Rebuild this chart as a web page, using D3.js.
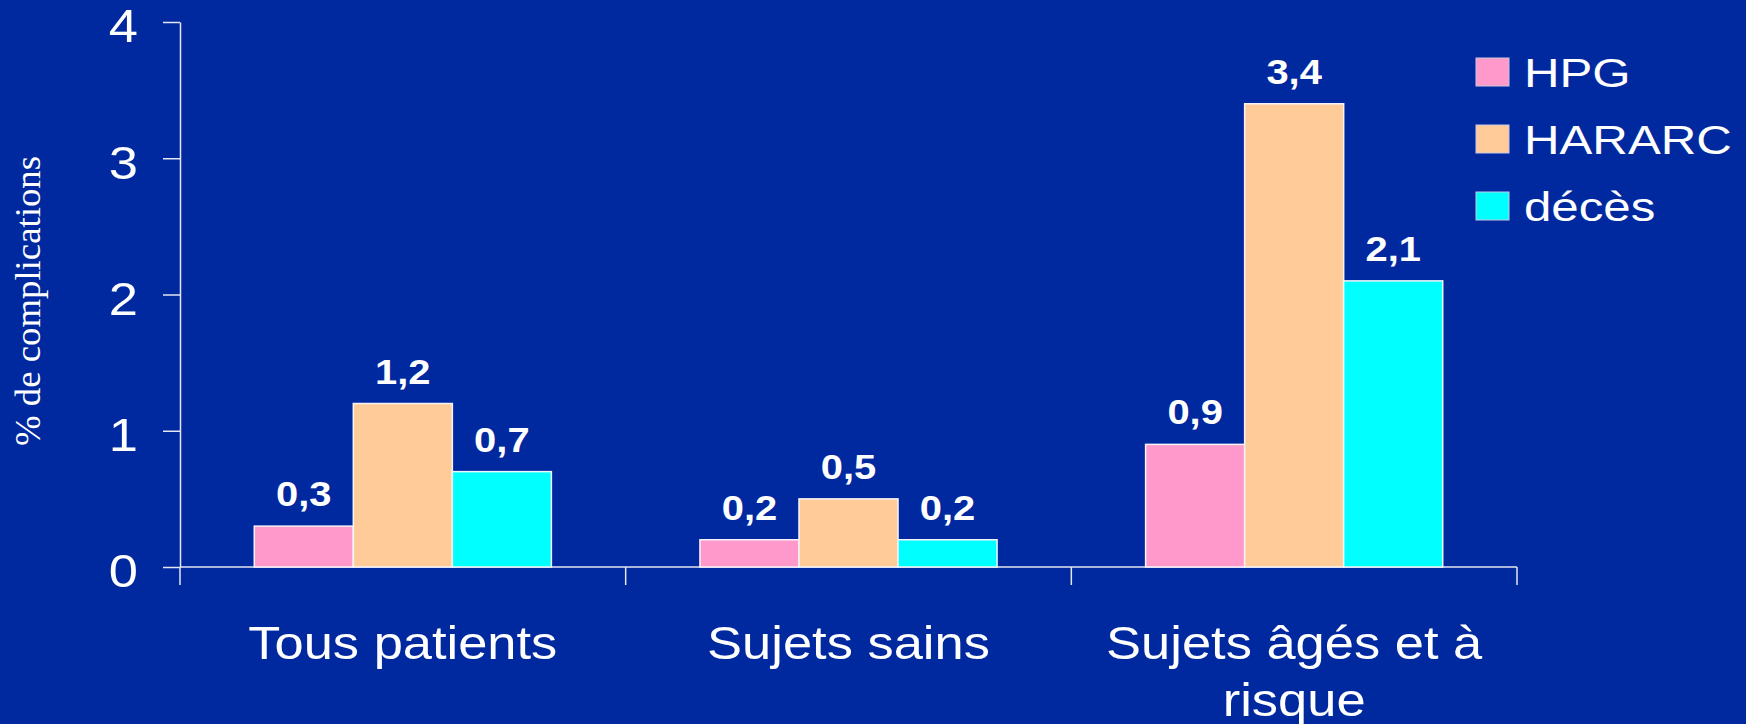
<!DOCTYPE html>
<html>
<head>
<meta charset="utf-8">
<title>complications</title>
<script src="https://cdn.jsdelivr.net/npm/d3@7"></script>
<style>
  body { margin: 0; background: #0029a0; }
  svg { display: block; }
</style>
</head>
<body>
<script>
// data
var categories = ['Tous patients', 'Sujets sains', 'Sujets âgés et à risque'];
var series = ['HPG', 'HARARC', 'décès'];
var hpg = [0.3, 0.2, 0.9];
var hararc = [1.2, 0.5, 3.4];
var deces = [0.7, 0.2, 2.1];
var yTicks = [0, 1, 2, 3, 4];
var yTitle = '% de complications';

var colors = ['#ff99cc', '#ffcc99', '#00ffff'];
var values = [hpg, hararc, deces];

var w = 1746, h = 724;
var sx = 1.14; // horizontal text stretch seen in the slide
var sans = '"Liberation Sans", Arial, sans-serif';

var svg = d3.select('body').append('svg')
  .attr('width', w)
  .attr('height', h);

svg.append('rect').attr('width', w).attr('height', h).attr('fill', '#0029a0');

var x0 = d3.scaleBand().domain(categories).range([180, 1517]);
var bw = x0.bandwidth();
var x1 = d3.scaleBand().domain(series).range([bw / 6, bw * 5 / 6]);
var y = d3.scaleLinear().domain([0, 4]).range([567, 22]);

function stretch(sel, k) {
  k = k || sx;
  sel.each(function() {
    var L = this.getComputedTextLength();
    d3.select(this).attr('textLength', L * k).attr('lengthAdjust', 'spacingAndGlyphs');
  });
}

// y axis
var yAxis = svg.append('g')
  .attr('transform', 'translate(180,0)')
  .call(d3.axisLeft(y).tickValues(yTicks).tickFormat(d3.format('d'))
    .tickSize(17).tickSizeOuter(0).tickPadding(25));
yAxis.selectAll('path, line').attr('stroke', '#e6e6f0').attr('stroke-width', 1.5);
yAxis.selectAll('text')
  .attr('fill', '#fff')
  .attr('font-family', sans)
  .attr('font-size', '46px')
  .attr('dy', '0.43em');
yAxis.selectAll('text').call(stretch);

// x axis line and boundary ticks
svg.append('line')
  .attr('x1', x0.range()[0]).attr('x2', x0.range()[1])
  .attr('y1', y(0)).attr('y2', y(0))
  .attr('stroke', '#e6e6f0').attr('stroke-width', 1.5);
var bounds = categories.map(function(d) { return x0(d); }).concat([x0.range()[1]]);
svg.selectAll('.xtick')
  .data(bounds)
  .enter()
  .append('line')
  .attr('class', 'xtick')
  .attr('x1', function(d) { return d; })
  .attr('x2', function(d) { return d; })
  .attr('y1', y(0))
  .attr('y2', y(0) + 18)
  .attr('stroke', '#e6e6f0').attr('stroke-width', 1.5);

// bars
var groups = svg.selectAll('.grp')
  .data(categories)
  .enter()
  .append('g')
  .attr('class', 'grp')
  .attr('transform', function(d) { return 'translate(' + x0(d) + ',0)'; });

var fmt = function(v) { return d3.format('.1f')(v).replace('.', ','); };

groups.each(function(c, ci) {
  var g = d3.select(this);
  var rows = series.map(function(s, si) { return { s: s, v: values[si][ci], col: colors[si] }; });
  g.selectAll('rect')
    .data(rows)
    .enter()
    .append('rect')
    .attr('x', function(d) { return x1(d.s); })
    .attr('y', function(d) { return y(d.v); })
    .attr('width', x1.bandwidth())
    .attr('height', function(d) { return y(0) - y(d.v); })
    .attr('fill', function(d) { return d.col; })
    .attr('stroke', '#f4f4f8')
    .attr('stroke-width', 1.5);
  g.selectAll('text')
    .data(rows)
    .enter()
    .append('text')
    .text(function(d) { return fmt(d.v); })
    .attr('x', function(d) { return x1(d.s) + x1.bandwidth() / 2; })
    .attr('y', function(d) { return y(d.v) - 20; })
    .attr('text-anchor', 'middle')
    .attr('fill', '#fff')
    .attr('font-family', sans)
    .attr('font-weight', 'bold')
    .attr('font-size', '35px')
    .call(stretch);
});

// category labels, wrapped to the band width
svg.selectAll('.cat')
  .data(categories)
  .enter()
  .append('text')
  .attr('class', 'cat')
  .attr('fill', '#fff')
  .attr('font-family', sans)
  .attr('font-size', '46px')
  .attr('text-anchor', 'middle')
  .each(function(d) {
    var t = d3.select(this);
    var cx = x0(d) + bw / 2;
    var words = d.split(' ');
    var lines = [], line = [];
    var probe = t.append('tspan');
    words.forEach(function(wd) {
      var test = line.concat([wd]).join(' ');
      probe.text(test);
      if (line.length && probe.node().getComputedTextLength() * sx > bw - 20) {
        lines.push(line.join(' '));
        line = [wd];
      } else {
        line.push(wd);
      }
    });
    lines.push(line.join(' '));
    probe.remove();
    lines.forEach(function(l, i) {
      t.append('tspan')
        .attr('x', cx)
        .attr('y', 659 + i * 57)
        .text(l)
        .call(stretch);
    });
  });

// y title
svg.append('text')
  .text(yTitle)
  .attr('transform', 'translate(40,301) rotate(-90)')
  .attr('text-anchor', 'middle')
  .attr('fill', '#fff')
  .attr('font-family', '"Liberation Serif", "Times New Roman", serif')
  .attr('font-size', '35px')
  .attr('textLength', 290)
  .attr('lengthAdjust', 'spacingAndGlyphs');

// legend
var legend = svg.selectAll('.leg')
  .data(series)
  .enter()
  .append('g')
  .attr('class', 'leg')
  .attr('transform', function(d, i) { return 'translate(1476,' + (58 + i * 67) + ')'; });
legend.append('rect')
  .attr('width', 33)
  .attr('height', 28)
  .attr('fill', function(d, i) { return colors[i]; })
  .attr('stroke', '#c8c8e0')
  .attr('stroke-width', 1);
legend.append('text')
  .text(function(d) { return d; })
  .attr('x', 48)
  .attr('y', 29)
  .attr('fill', '#fff')
  .attr('font-family', sans)
  .attr('font-size', '41px')
  .call(stretch, 1.2);
</script>
</body>
</html>
